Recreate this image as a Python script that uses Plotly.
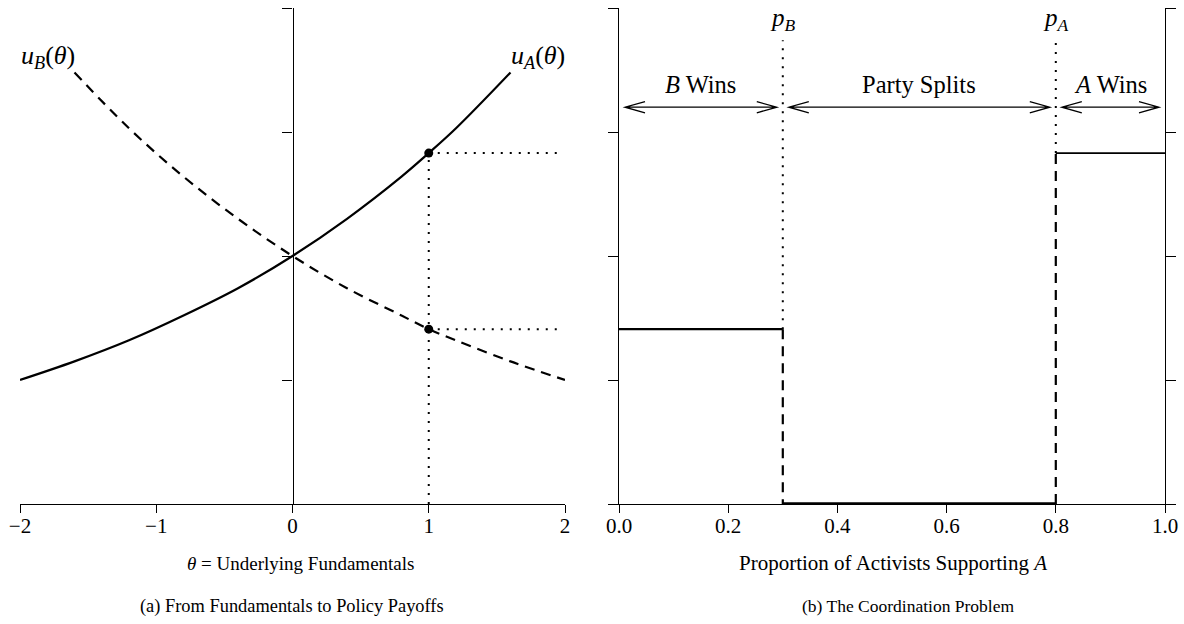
import plotly.graph_objects as go

# ---------------- data ----------------
theta = [-2.0, -1.6, -1.2, -0.8, -0.4, 0.0, 0.4, 0.8, 1.0, 1.2, 1.6, 2.0]
uA_vals = [1.00, 1.15, 1.32, 1.52, 1.74, 2.00, 2.30, 2.64, 2.83, 3.03, 3.48, None]
uB_vals = [None, 3.48, 3.03, 2.64, 2.30, 2.00, 1.74, 1.52, 1.41, 1.32, 1.15, 1.00]
theta_star = 1.0
uA_star = 2.83
uB_star = 1.41
theta_ticks = [-2, -1, 0, 1, 2]
y_ticks = [0, 1, 2, 3, 4]

p_B = 0.3
p_A = 0.8
payoff_B = 1.41   # payoff while B wins
payoff_split = 0.0
payoff_A = 2.83   # payoff when A wins
prop_ticks = [0.0, 0.2, 0.4, 0.6, 0.8, 1.0]
regions = [("<i>B</i> Wins", 0.0, p_B), ("Party Splits", p_B, p_A), ("<i>A</i> Wins", p_A, 1.0)]
threshold_labels = [("<i>p</i><sub><i>B</i></sub>", p_B), ("<i>p</i><sub><i>A</i></sub>", p_A)]

# ---------------- layout geometry ----------------
W, H = 1184, 624
def px(x):
    return x / W
def py(y):
    return 1 - y / H

dom1 = [px(20), px(565)]
dom2 = [px(619), px(1165)]
ydom = [py(504), py(8)]
FONT = "Liberation Serif, Times New Roman, serif"
DOT = "2px,7px"
DASH = "10px,7px"

fig = go.Figure()

# ----- panel (a) -----
fig.add_trace(go.Scatter(x=theta, y=uA_vals, mode="lines", line=dict(color="black", width=2.2, shape="spline"),
                         xaxis="x", yaxis="y", showlegend=False, connectgaps=False))
fig.add_trace(go.Scatter(x=theta, y=uB_vals, mode="lines", line=dict(color="black", width=2.2, dash=DASH, shape="spline"),
                         xaxis="x", yaxis="y", showlegend=False, connectgaps=False))
fig.add_trace(go.Scatter(x=[theta_star, theta_star], y=[0, uA_star], mode="lines",
                         line=dict(color="black", width=2, dash=DOT), xaxis="x", yaxis="y", showlegend=False))
for v in (uA_star, uB_star):
    fig.add_trace(go.Scatter(x=[theta_star, theta_ticks[-1] - 0.03], y=[v, v], mode="lines",
                             line=dict(color="black", width=2, dash=DOT), xaxis="x", yaxis="y", showlegend=False))
fig.add_trace(go.Scatter(x=[theta_star, theta_star], y=[uA_star, uB_star], mode="markers",
                         marker=dict(color="black", size=9), xaxis="x", yaxis="y", showlegend=False))

# ----- panel (b) -----
fig.add_trace(go.Scatter(x=[0.0, p_B], y=[payoff_B, payoff_B], mode="lines",
                         line=dict(color="black", width=2.2), xaxis="x2", yaxis="y2", showlegend=False))
fig.add_trace(go.Scatter(x=[p_B, p_B], y=[payoff_B, payoff_split], mode="lines",
                         line=dict(color="black", width=2.2, dash=DASH), xaxis="x2", yaxis="y2", showlegend=False))
fig.add_trace(go.Scatter(x=[p_B, p_A], y=[payoff_split, payoff_split], mode="lines",
                         line=dict(color="black", width=3.5), xaxis="x2", yaxis="y2", showlegend=False))
fig.add_trace(go.Scatter(x=[p_A, p_A], y=[payoff_split, payoff_A], mode="lines",
                         line=dict(color="black", width=2.2, dash=DASH), xaxis="x2", yaxis="y2", showlegend=False))
fig.add_trace(go.Scatter(x=[p_A, 1.0], y=[payoff_A, payoff_A], mode="lines",
                         line=dict(color="black", width=1.6), xaxis="x2", yaxis="y2", showlegend=False))
top_guide = 3.74
for lo, xv in ((payoff_B, p_B), (payoff_A, p_A)):
    fig.add_trace(go.Scatter(x=[xv, xv], y=[lo, top_guide], mode="lines",
                             line=dict(color="black", width=2, dash=DOT), xaxis="x2", yaxis="y2", showlegend=False))

annotations = []
shapes = []
arrow_y = 3.2
gap = 0.011
hx = 20 / 546
hy = 0.045
for label, a, b in regions:
    x0, x1 = a + gap, b - gap
    path = (f"M {x0},{arrow_y} L {x1},{arrow_y} "
            f"M {x0 + hx},{arrow_y + hy} L {x0},{arrow_y} L {x0 + hx},{arrow_y - hy} "
            f"M {x1 - hx},{arrow_y + hy} L {x1},{arrow_y} L {x1 - hx},{arrow_y - hy}")
    shapes.append(dict(type="path", xref="x2", yref="y2", path=path, line=dict(color="black", width=1.3)))
    annotations.append(dict(x=(a + b) / 2, y=3.38, xref="x2", yref="y2", text=label, showarrow=False,
                            font=dict(size=24.5, family=FONT, color="black"), xanchor="center", yanchor="middle"))
for lab, xv in threshold_labels:
    annotations.append(dict(x=xv, y=3.91, xref="x2", yref="y2", text=lab, showarrow=False, borderpad=0,
                            font=dict(size=25, family=FONT, color="black"), xanchor="center", yanchor="middle"))

annotations.append(dict(x=-1.6, y=3.48, xref="x", yref="y", text="<i>u</i><sub><i>B</i></sub>(<i>θ</i>)",
                        showarrow=False, xanchor="right", yanchor="bottom", yshift=-3, xshift=2,
                        font=dict(size=26, family=FONT, color="black")))
annotations.append(dict(x=1.6, y=3.48, xref="x", yref="y", text="<i>u</i><sub><i>A</i></sub>(<i>θ</i>)",
                        showarrow=False, xanchor="left", yanchor="bottom", yshift=-3, xshift=-2,
                        font=dict(size=26, family=FONT, color="black")))

annotations.append(dict(x=px(300), y=py(563), xref="paper", yref="paper", text="<i>θ</i> = Underlying Fundamentals",
                        showarrow=False, xanchor="center", yanchor="middle", font=dict(size=19, family=FONT, color="black")))
annotations.append(dict(x=px(893), y=py(563), xref="paper", yref="paper", text="Proportion of Activists Supporting <i>A</i>",
                        showarrow=False, xanchor="center", yanchor="middle", font=dict(size=21, family=FONT, color="black")))
annotations.append(dict(x=px(292), y=py(606), xref="paper", yref="paper", text="(a) From Fundamentals to Policy Payoffs",
                        showarrow=False, xanchor="center", yanchor="middle", font=dict(size=18.4, family=FONT, color="black")))
annotations.append(dict(x=px(908), y=py(606), xref="paper", yref="paper", text="(b) The Coordination Problem",
                        showarrow=False, xanchor="center", yanchor="middle", font=dict(size=17.5, family=FONT, color="black")))

ax_common = dict(showgrid=False, zeroline=False, showline=True, linecolor="black", linewidth=1.2,
                 ticks="outside", tickcolor="black", tickwidth=1.2)

y0pos = dom1[0] + (0 - theta_ticks[0]) / (theta_ticks[-1] - theta_ticks[0]) * (dom1[1] - dom1[0])

fig.update_layout(
    width=W, height=H, template="none",
    margin=dict(l=0, r=0, t=0, b=0),
    paper_bgcolor="white", plot_bgcolor="white",
    font=dict(family=FONT, color="black", size=21),
    showlegend=False,
    xaxis=dict(domain=dom1, range=[theta_ticks[0], theta_ticks[-1]], anchor="y", tickvals=theta_ticks,
               ticklen=8, tickfont=dict(size=21), ticklabelstandoff=-5, **ax_common),
    yaxis=dict(domain=ydom, range=[y_ticks[0], y_ticks[-1]], anchor="free", position=y0pos,
               tickvals=y_ticks, ticklen=10, showticklabels=False, **ax_common),
    xaxis2=dict(domain=dom2, range=[prop_ticks[0], prop_ticks[-1]], anchor="y2", tickvals=prop_ticks,
                tickformat=".1f", ticklen=8, tickfont=dict(size=21), ticklabelstandoff=-5, **ax_common),
    yaxis2=dict(domain=ydom, range=[y_ticks[0], y_ticks[-1]], anchor="x2", tickvals=y_ticks,
                ticklen=10, showticklabels=False, mirror="ticks", **ax_common),
    annotations=annotations,
    shapes=shapes,
)

fig.write_html("out.html", config={"displayModeBar": False},
               post_script="document.body.style.margin='0';document.body.style.overflow='hidden';")
